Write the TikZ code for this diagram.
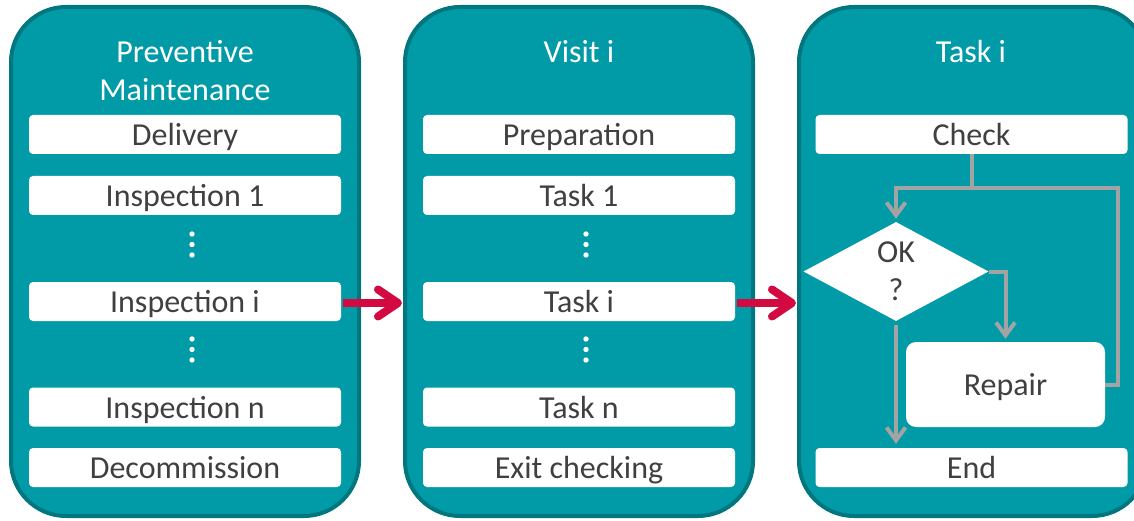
\documentclass[tikz,border=0pt]{standalone}
\usepackage{fontspec}
\setmainfont{Carlito}
\usetikzlibrary{arrows.meta,shapes.geometric,calc}
\definecolor{tealfill}{HTML}{009BA7}
\definecolor{tealdark}{HTML}{00767E}
\definecolor{txtgrey}{HTML}{404040}
\definecolor{crim}{HTML}{D20A41}
\definecolor{conn}{HTML}{A3A3A3}
\tikzset{
  panel/.style={rectangle, rounded corners=55pt, fill=tealfill, draw=tealdark, line width=4pt,
    minimum width=348pt, minimum height=509pt, inner sep=0pt},
  ptitle/.style={text=white, align=center, font=\fontsize{32}{38}\selectfont, inner sep=0pt},
  wbox/.style={rectangle, rounded corners=4pt, fill=white, minimum width=312pt, minimum height=39pt,
    inner sep=0pt, text=txtgrey, font=\fontsize{32}{38}\selectfont, text height=22pt, text depth=0pt},
  okdia/.style={diamond, fill=white, minimum width=185pt, minimum height=99pt, aspect=1.87, inner sep=0pt,
    text=txtgrey, align=center, font=\fontsize{32}{38}\selectfont},
  repbox/.style={rectangle, rounded corners=10pt, fill=white, minimum width=199pt, minimum height=85pt,
    inner sep=0pt, text=txtgrey, font=\fontsize{32}{38}\selectfont, text height=21pt, text depth=0pt},
  redarrow/.style={draw=crim, line width=8pt, -{Straight Barb[length=20pt,width=27pt,round]}},
  flow/.style={draw=conn, line width=4pt},
  flowarrow/.style={flow, -{Straight Barb[length=13pt,width=19pt]}},
  dotmark/.style={fill=white}
}
\begin{document}
\begin{tikzpicture}[x=1pt,y=-1pt]
\useasboundingbox (0,0) rectangle (1134,521);
% panels
\node[panel] (p1) at (185,261.5) {};
\node[panel] (p2) at (579,261.5) {};
\node[panel] (p3) at (973,261.5) {};
% titles
\node[ptitle, anchor=base] (t1) at (185,101) {Preventive\\Maintenance};
\node[ptitle, anchor=base] (t2) at (579,63) {Visit i};
\node[ptitle, anchor=base] (t3) at (971,63) {Task i};
% left boxes
\node[wbox] (l1) at (185,134.5) {Delivery};
\node[wbox] (l2) at (185,195.5) {Inspection 1};
\node[wbox] (l3) at (185,301.5) {Inspection i};
\node[wbox] (l4) at (185,407) {Inspection n};
\node[wbox] (l5) at (185,467.5) {Decommission};
% middle boxes
\node[wbox] (m1) at (579,134.5) {Preparation};
\node[wbox] (m2) at (579,195.5) {Task 1};
\node[wbox] (m3) at (579,301.5) {Task i};
\node[wbox] (m4) at (579,407) {Task n};
\node[wbox] (m5) at (579,467.5) {Exit checking};
% dots
\foreach \x in {192,586} {
  \foreach \y in {234,244.5,255,339,349.5,360} {
    \fill[dotmark] (\x,\y) circle (2.7pt);
  }
}
% right panel flow
\node[wbox] (chk) at (971.5,134.5) {Check};
\node[wbox] (endb) at (971.5,467.5) {End};
\node[okdia] (ok) at (896,271.5) {OK\\?};
\node[repbox] (rep) at (1005.5,384.5) {Repair};
\coordinate (merge) at (896,188);
\coordinate (loopc) at (1118,188);
\draw[flow] (chk.south) -- (chk.south |- merge);
\draw[flowarrow] (rep.east) -| (loopc) -- (merge) -- ($(ok.north)+(0,-3)$);
\draw[flowarrow] (ok.east) -| ($(rep.north)+(0,-3)$);
\draw[flowarrow] ($(ok.south)+(0,4)$) -- ($(ok.south |- endb.north)+(0,-4)$);
% red arrows
\coordinate (r1s) at (343,303);
\coordinate (r1e) at (402,303);
\coordinate (r2s) at (737,303);
\coordinate (r2e) at (796,303);
\draw[redarrow] (r1s) -- (r1e);
\draw[redarrow] (r2s) -- (r2e);
\end{tikzpicture}
\end{document}
